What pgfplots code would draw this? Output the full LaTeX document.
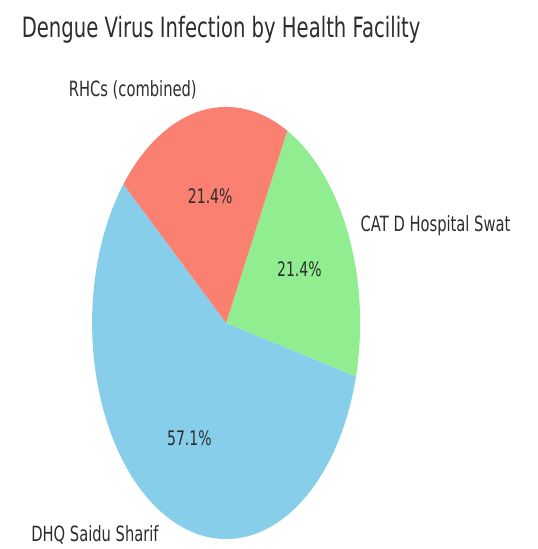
\documentclass[border=0pt]{standalone}
\usepackage{pgfplots}
\pgfplotsset{compat=1.18}
\usepackage{fontspec}
\setmainfont[FakeStretch=0.7]{DejaVu Sans}
\definecolor{skyblue}{RGB}{135,206,235}
\definecolor{lightgreen}{RGB}{144,238,144}
\definecolor{salmon}{RGB}{250,128,114}
\definecolor{txt}{RGB}{45,45,45}

\begin{document}
\begin{tikzpicture}
% case counts: DHQ Saidu Sharif 8, CAT D Hospital Swat 3, RHCs (combined) 3
\pgfmathsetmacro{\tot}{8+3+3}
\pgfmathsetmacro{\aA}{140}
\pgfmathsetmacro{\aB}{\aA+360*8/\tot}
\pgfmathsetmacro{\aC}{\aB+360*3/\tot}
\pgfmathsetmacro{\aD}{\aC+360*3/\tot}
\pgfmathsetmacro{\mA}{(\aA+\aB)/2}
\pgfmathsetmacro{\mB}{(\aB+\aC)/2}
\pgfmathsetmacro{\mC}{(\aC+\aD)/2}
\begin{axis}[hide axis, scale only axis, width=268bp, height=432bp,
  xmin=-1, xmax=1, ymin=-1, ymax=1, clip=false]
\path (axis cs:-1.687,-1.046) rectangle (axis cs:2.321,1.495);
\addplot[fill=skyblue, draw=none, domain=\aA:\aB, samples=120] ({cos(x)},{sin(x)}) -- (axis cs:0,0) -- cycle;
\addplot[fill=lightgreen, draw=none, domain=\aB:\aC, samples=60] ({cos(x)},{sin(x)}) -- (axis cs:0,0) -- cycle;
\addplot[fill=salmon, draw=none, domain=\aC:\aD, samples=60] ({cos(x)},{sin(x)}) -- (axis cs:0,0) -- cycle;
% slice labels
\node[anchor=east, text=txt, font=\fontsize{21bp}{24bp}\selectfont, inner sep=0pt]
  at (axis cs:{1.1*cos(\mA)},{1.1*sin(\mA)}) {DHQ Saidu Sharif};
\node[anchor=west, text=txt, font=\fontsize{21bp}{24bp}\selectfont, inner sep=0pt]
  at (axis cs:{1.1*cos(\mB)},{1.1*sin(\mB)}) {CAT D Hospital Swat};
\node[anchor=east, text=txt, font=\fontsize{21bp}{24bp}\selectfont, inner sep=0pt]
  at (axis cs:{1.1*cos(\mC)},{1.1*sin(\mC)}) {RHCs (combined)};
% percentages
\node[text=txt, font=\fontsize{20bp}{24bp}\selectfont, inner sep=0pt]
  at (axis cs:{0.6*cos(\mA)},{0.6*sin(\mA)}) {57.1\%};
\node[text=txt, font=\fontsize{20bp}{24bp}\selectfont, inner sep=0pt]
  at (axis cs:{0.6*cos(\mB)},{0.6*sin(\mB)}) {21.4\%};
\node[text=txt, font=\fontsize{20bp}{24bp}\selectfont, inner sep=0pt]
  at (axis cs:{0.6*cos(\mC)},{0.6*sin(\mC)}) {21.4\%};
% title
\node[text=txt, font=\fontsize{28bp}{32bp}\selectfont, inner sep=0pt]
  at (axis cs:-0.037,1.356) {Dengue Virus Infection by Health Facility};
\end{axis}
\end{tikzpicture}
\end{document}
